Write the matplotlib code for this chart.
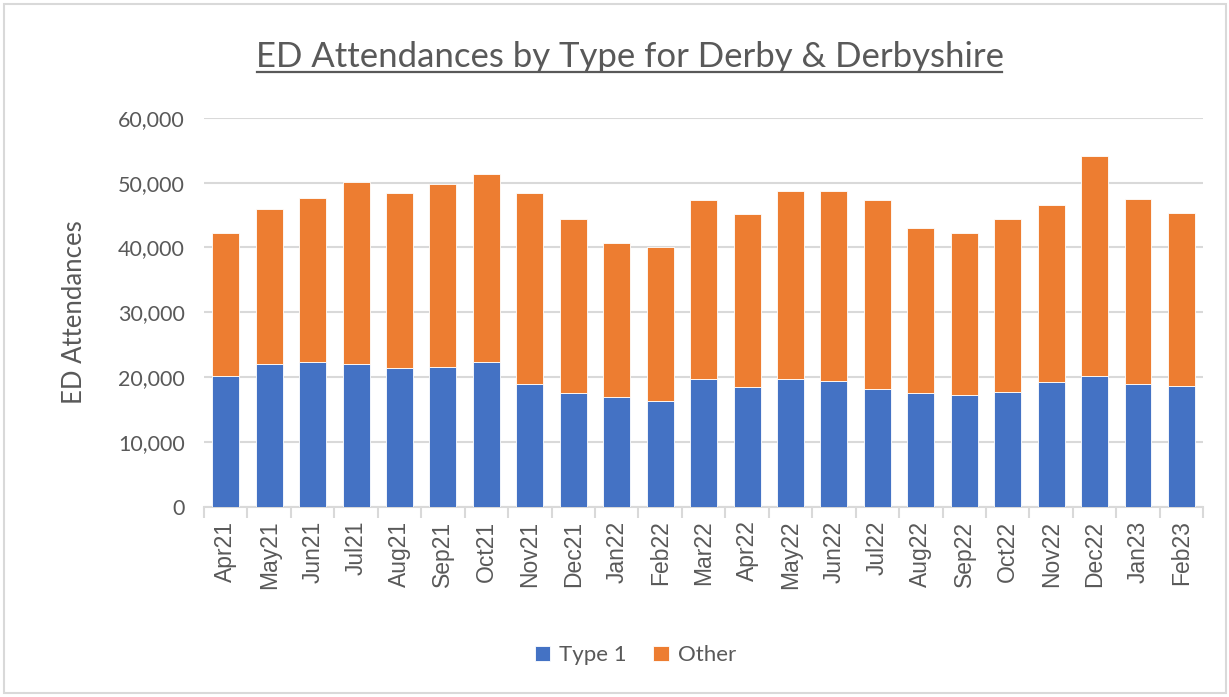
import numpy as np
import matplotlib.pyplot as plt
from matplotlib.patches import Rectangle

months = ["Apr21", "May21", "Jun21", "Jul21", "Aug21", "Sep21", "Oct21", "Nov21",
          "Dec21", "Jan22", "Feb22", "Mar22", "Apr22", "May22", "Jun22", "Jul22",
          "Aug22", "Sep22", "Oct22", "Nov22", "Dec22", "Jan23", "Feb23"]
type1 = [20100, 22050, 22250, 22050, 21350, 21550, 22250, 18900,
         17500, 17000, 16300, 19650, 18450, 19650, 19400, 18200,
         17500, 17250, 17750, 19200, 20100, 18900, 18650]
total = [42200, 46000, 47700, 50050, 48400, 49850, 51300, 48400,
         44350, 40750, 40050, 47250, 45100, 48650, 48650, 47250,
         42950, 42200, 44350, 46500, 54100, 47450, 45300]
other = [t - a for t, a in zip(total, type1)]

blue = "#4472c4"
orange = "#ed7d31"
grey_text = "#595959"
grid_col = "#d9d9d9"

fig = plt.figure(figsize=(12.29, 6.97), dpi=100)
ax = fig.add_axes([0.166, 0.273, 0.813, 0.558])

x = np.arange(len(months))
ax.bar(x, type1, width=0.62, color=blue, edgecolor="white", linewidth=0.6, label="Type 1", zorder=3)
ax.bar(x, other, width=0.62, bottom=type1, color=orange, edgecolor="white", linewidth=0.6, label="Other", zorder=3)

ax.set_xlim(-0.5, len(months) - 0.5)
ax.set_ylim(0, 60000)
ax.set_yticks(np.arange(0, 60001, 10000))
ax.set_yticklabels([f"{v:,}" for v in range(0, 60001, 10000)], fontsize=15.5, color=grey_text, family="Lato")
ax.yaxis.grid(True, color=grid_col, linewidth=1.5, zorder=0)
ax.tick_params(axis="y", length=0, pad=14)

ax.set_xticks(x)
ax.set_xticklabels(months, rotation=90, fontsize=16.5, color=grey_text, family="Liberation Sans")
ax.set_xticks(np.arange(-0.5, len(months), 1), minor=True)
ax.tick_params(axis="x", which="major", length=0, pad=10)
ax.tick_params(axis="x", which="minor", length=8, color=grid_col, width=1.5)

for s in ["top", "right", "left"]:
    ax.spines[s].set_visible(False)
ax.spines["bottom"].set_color(grid_col)
ax.spines["bottom"].set_linewidth(1.5)

ax.set_ylabel("ED Attendances", fontsize=18.5, color=grey_text, family="Lato", labelpad=22)

fig.text(0.5125, 0.918, "ED Attendances by Type for Derby & Derbyshire", ha="center", va="center",
         fontsize=25, color=grey_text, family="Lato")
fig.add_artist(plt.Line2D([257 / 1229, 1002 / 1229], [1 - 72 / 697, 1 - 72 / 697], color=grey_text, linewidth=1.6))

fig.legend(loc="center", bbox_to_anchor=(0.517, 0.06), ncol=2, frameon=False,
           prop={"family": "Lato", "size": 16}, labelcolor=grey_text,
           handlelength=0.7, handleheight=0.7, handletextpad=0.4, columnspacing=1.2)

fig.add_artist(Rectangle((4 / 1229, 4 / 697), 1222 / 1229, 689 / 697, fill=False,
                         edgecolor=grid_col, linewidth=1.5, transform=fig.transFigure))

fig.savefig("out.png", dpi=100, facecolor="white")
